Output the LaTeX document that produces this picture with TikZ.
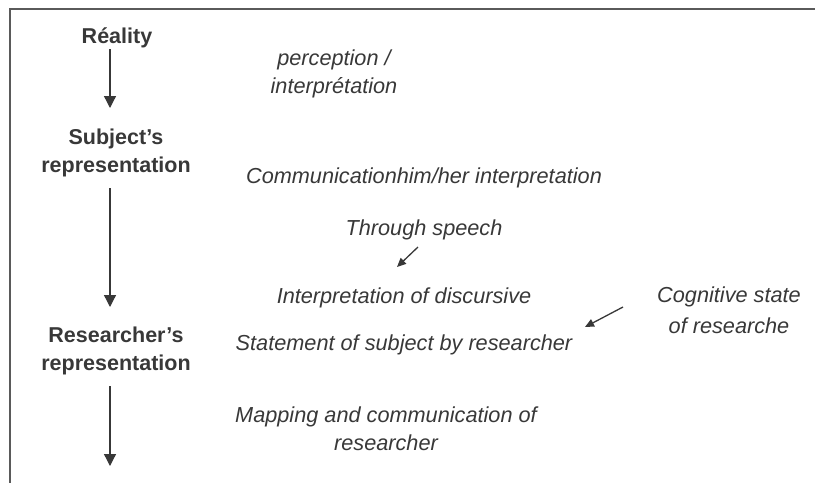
\documentclass[tikz,border=0pt]{standalone}
\usepackage{fontspec}
\setmainfont{Liberation Sans}
\usetikzlibrary{arrows.meta}
\definecolor{ink}{HTML}{383838}
\definecolor{frame}{HTML}{5a5a5a}
\tikzset{
  stage/.style={font=\fontsize{21.5}{28}\selectfont\bfseries, text=ink, align=center, inner sep=0pt, anchor=base},
  note/.style={font=\fontsize{21.7}{28}\selectfont\itshape, text=ink, align=center, inner sep=0pt, anchor=base},
  flow/.style={draw=ink, line width=1.3pt, -{Triangle[length=12pt,width=12pt]}},
  hint/.style={draw=ink, line width=1.3pt, -{Triangle[length=9pt,width=8pt]}},
}
\begin{document}
\begin{tikzpicture}[x=1pt,y=-1pt]
\useasboundingbox (0,0) rectangle (815,483);
\draw[frame, line width=1.7pt] (815,9) -- (10,9) -- (10,483);
\node[stage] (real) at (117,43) {Réality};
\node[stage] (subj) at (116,172) {Subject's\\representation};
\node[stage] (res) at (116,370) {Researcher's\\representation};
\coordinate (end) at (110,466);
\draw[flow] (110,49) -- (110,108);
\draw[flow] (110,188) -- (110,307);
\draw[flow] (110,386) -- (end);
\node[note] (perc) at (334,93) {perception /\\interprétation};
\node[note] (comm) at (424,183) {Communicationhim/her interpretation};
\node[note] (speech) at (424,235) {Through speech};
\node[note] (disc) at (404,303) {Interpretation of discursive};
\node[note, font=\fontsize{21.7}{31}\selectfont\itshape] (cog) at (729,333) {Cognitive state\\of researche};
\node[note] (stmt) at (404,350) {Statement of subject by researcher};
\node[note] (map) at (386,450) {Mapping and communication of\\researcher};
\coordinate (s1) at (418,247);
\coordinate (s2) at (397,267);
\coordinate (c1) at (623,307);
\coordinate (c2) at (585,327);
\draw[hint] (s1) -- (s2);
\draw[hint] (c1) -- (c2);
\end{tikzpicture}
\end{document}
